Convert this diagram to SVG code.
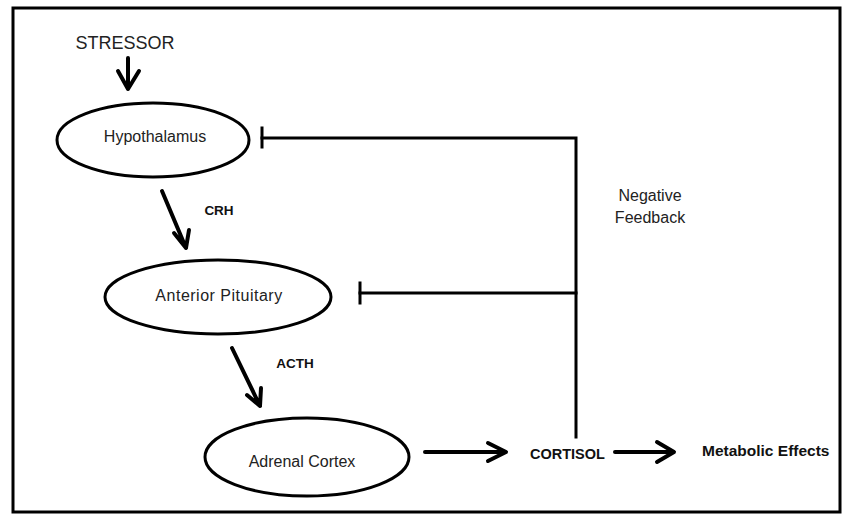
<svg xmlns="http://www.w3.org/2000/svg" width="843" height="514" viewBox="0 0 843 514">
<style>
.node ellipse{fill:#fff;stroke:#000;stroke-width:3}
.lbl{font-family:"Liberation Sans",Arial,sans-serif;font-size:16px;fill:#222;text-anchor:middle}
.bold{font-family:"Liberation Sans",Arial,sans-serif;font-weight:bold;fill:#111}
.arr{fill:none;stroke:#000;stroke-width:4;stroke-linecap:round;stroke-linejoin:round}
.fb{fill:none;stroke:#000;stroke-width:3;stroke-linecap:square}
</style>
<rect x="0" y="0" width="843" height="514" fill="#fff"/>
<rect x="13" y="8" width="827" height="504" fill="none" stroke="#000" stroke-width="3"/>
<text class="lbl" x="125" y="49" style="font-size:18px">STRESSOR</text>
<g id="hypothalamus" class="node">
<ellipse cx="153" cy="140" rx="96" ry="37"/>
<text class="lbl" x="155" y="142">Hypothalamus</text>
</g>
<g id="anterior-pituitary" class="node">
<ellipse cx="218" cy="297" rx="113" ry="37"/>
<text class="lbl" x="219" y="301" letter-spacing="0.5">Anterior Pituitary</text>
</g>
<g id="adrenal-cortex" class="node">
<ellipse cx="307" cy="457" rx="102" ry="39"/>
<text class="lbl" x="302" y="467">Adrenal Cortex</text>
</g>
<g id="cortisol">
<text class="bold" x="530" y="459" style="font-size:14.5px">CORTISOL</text>
</g>
<g id="metabolic-effects">
<text class="bold" x="702" y="456" style="font-size:15.5px">Metabolic Effects</text>
</g>
<g id="labels">
<text class="bold" x="219" y="215" text-anchor="middle" style="font-size:13.5px">CRH</text>
<text class="bold" x="295" y="368" text-anchor="middle" style="font-size:13.5px">ACTH</text>
<text class="lbl" x="650" y="201">Negative</text>
<text class="lbl" x="650" y="223">Feedback</text>
</g>
<g id="connectors">
<path class="arr" d="M128 58 V89 M118 71 L128 89 L139 71"/>
<path class="arr" d="M162 191 L186 248 M174 233 L186 248 L189 230"/>
<path class="arr" d="M232 348 L260 406 M247 395 L260 406 L261 388"/>
<path class="arr" d="M425 452 H505 M488 443 L506 452 L488 461"/>
<path class="arr" d="M615 452 H673 M657 442 L674 452 L657 462"/>
<path class="fb" d="M576 437 V138 H262"/>
<path class="fb" d="M576 293 H360"/>
<path class="fb" d="M262 128 V147 M360 283 V303"/>
</g>
</svg>
